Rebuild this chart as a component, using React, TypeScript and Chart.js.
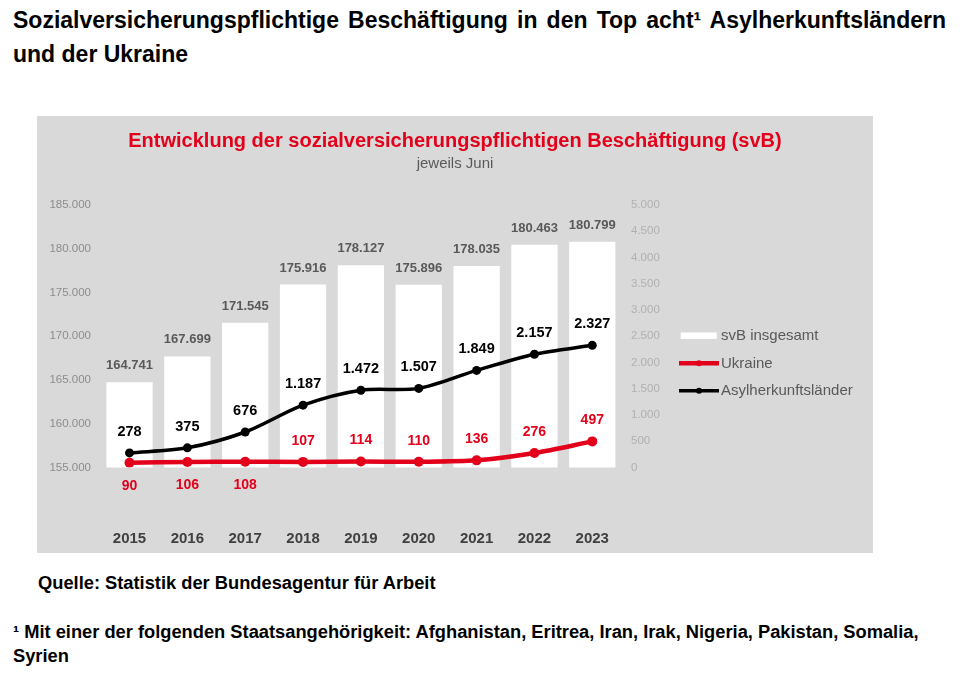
import React, { useEffect, useRef } from 'react';
import { Chart, registerables } from 'chart.js';

Chart.register(...registerables);

// ---- data ----
const years = ['2015', '2016', '2017', '2018', '2019', '2020', '2021', '2022', '2023'];
const svbTotal = [164741, 167699, 171545, 175916, 178127, 175896, 178035, 180463, 180799];
const ukraine = [90, 106, 108, 107, 114, 110, 136, 276, 497];
const asylCountries = [278, 375, 676, 1187, 1472, 1507, 1849, 2157, 2327];
const ukraineLabelSide = ['below', 'below', 'below', 'above', 'above', 'above', 'above', 'above', 'above'];

const FONT = "'Liberation Sans', Arial, Helvetica, sans-serif";
const RED = '#e2001a';
const GRAY_TEXT = '#595959';

const fmt = (v: number) => String(Math.round(v)).replace(/\B(?=(\d{3})+(?!\d))/g, '.');

const valueLabels = {
  id: 'valueLabels',
  afterDatasetsDraw(chart: any) {
    const ctx = chart.ctx;
    chart.data.datasets.forEach((ds: any, i: number) => {
      const meta = chart.getDatasetMeta(i);
      ctx.save();
      ctx.fillStyle = ds.labelColor;
      ctx.font = ds.labelFont;
      ctx.textAlign = 'center';
      ctx.textBaseline = 'middle';
      meta.data.forEach((el: any, j: number) => {
        const off = ds.labelOffsets[j];
        ctx.fillText(fmt(ds.data[j]), el.x, el.y + off);
      });
      ctx.restore();
    });
  },
};

const customLegend = {
  id: 'customLegend',
  afterDraw(chart: any) {
    const { ctx, chartArea } = chart;
    const ds = chart.data.datasets;
    const order = [2, 1, 0];
    const x0 = chartArea.right + 57.8;
    order.forEach((idx, k) => {
      const d = ds[idx];
      const yc = chartArea.top + 130.7 + k * 27.5;
      ctx.save();
      if (d.type === 'bar') {
        ctx.fillStyle = d.backgroundColor;
        ctx.fillRect(x0 + 1.7, yc - 3.2, 36, 6.4);
      } else {
        ctx.strokeStyle = d.borderColor;
        ctx.lineWidth = d.borderWidth;
        ctx.beginPath();
        ctx.moveTo(x0, yc);
        ctx.lineTo(x0 + 40, yc);
        ctx.stroke();
        ctx.fillStyle = d.borderColor;
        ctx.beginPath();
        ctx.arc(x0 + 20, yc, 3, 0, Math.PI * 2);
        ctx.fill();
      }
      ctx.fillStyle = GRAY_TEXT;
      ctx.font = `15px ${FONT}`;
      ctx.textAlign = 'left';
      ctx.textBaseline = 'middle';
      ctx.fillText(d.label, x0 + 42, yc + 0.5);
      ctx.restore();
    });
  },
};

function SvbChart() {
  const ref = useRef<HTMLCanvasElement | null>(null);
  useEffect(() => {
    if (!ref.current) return;
    const chart = new Chart(ref.current, {
      type: 'bar',
      data: {
        labels: years,
        datasets: [
          {
            type: 'line',
            label: 'Asylherkunftsländer',
            data: asylCountries,
            yAxisID: 'yR',
            borderColor: '#000000',
            backgroundColor: '#000000',
            borderWidth: 3.5,
            pointRadius: 4.5,
            pointBackgroundColor: '#000000',
            pointBorderWidth: 0,
            tension: 0.3,
            order: 0,
            labelColor: '#000000',
            labelFont: `bold 14.5px ${FONT}`,
            labelOffsets: asylCountries.map(() => -21),
          } as any,
          {
            type: 'line',
            label: 'Ukraine',
            data: ukraine,
            yAxisID: 'yR',
            borderColor: RED,
            backgroundColor: RED,
            borderWidth: 4.5,
            pointRadius: 5,
            pointBackgroundColor: RED,
            pointBorderWidth: 0,
            tension: 0.3,
            order: 1,
            labelColor: RED,
            labelFont: `bold 14px ${FONT}`,
            labelOffsets: ukraineLabelSide.map((s) => (s === 'below' ? 23 : -21)),
          } as any,
          {
            type: 'bar',
            label: 'svB insgesamt',
            data: svbTotal,
            yAxisID: 'yL',
            backgroundColor: '#ffffff',
            borderWidth: 0,
            barPercentage: 0.8,
            categoryPercentage: 1,
            order: 2,
            labelColor: GRAY_TEXT,
            labelFont: `bold 13px ${FONT}`,
            labelOffsets: svbTotal.map(() => -16.5),
          } as any,
        ],
      },
      options: {
        responsive: false,
        animation: false,
        layout: { padding: { top: 0, left: 0, right: 0, bottom: 5.5 } },
        plugins: {
          legend: { display: false },
          tooltip: { enabled: false },
          title: {
            display: true,
            text: 'Entwicklung der sozialversicherungspflichtigen Beschäftigung (svB)',
            color: RED,
            font: { family: FONT, size: 20, weight: 'bold' },
            padding: { top: 13.5, bottom: 0 },
          },
          subtitle: {
            display: true,
            text: 'jeweils Juni',
            color: GRAY_TEXT,
            font: { family: FONT, size: 15, weight: 'normal' },
            padding: { top: 1.5, bottom: 32 },
          },
        },
        scales: {
          x: {
            offset: true,
            grid: { display: false, drawTicks: false },
            border: { display: false },
            ticks: {
              padding: 62,
              color: '#404040',
              font: { family: FONT, size: 15, weight: 'bold' },
            },
            afterFit: (s: any) => {
              s.height = 80;
            },
          },
          yL: {
            position: 'left',
            min: 155000,
            max: 185000,
            grid: { display: false, drawTicks: false },
            border: { display: false },
            ticks: {
              stepSize: 5000,
              padding: 9.6,
              color: '#8c8c8c',
              font: { family: FONT, size: 11.5 },
              callback: (v: any) => fmt(Number(v)),
            },
            afterFit: (s: any) => {
              s.width = 63.6;
            },
          },
          yR: {
            position: 'right',
            min: 0,
            max: 5000,
            grid: { display: false, drawTicks: false },
            border: { display: false },
            ticks: {
              stepSize: 500,
              padding: 9.8,
              color: '#b0b0b0',
              font: { family: FONT, size: 11.5 },
              callback: (v: any) => fmt(Number(v)),
            },
            afterFit: (s: any) => {
              s.width = 251.8;
            },
          },
        },
      } as any,
      plugins: [valueLabels, customLegend],
    });
    return () => chart.destroy();
  }, []);
  return <canvas ref={ref} width={836} height={437} style={{ display: 'block', width: 836, height: 437 }} />;
}

export default function App() {
  return (
    <div style={{ position: 'relative', width: 944, height: 659, fontFamily: FONT, color: '#000' }}>
      <div
        style={{
          position: 'absolute',
          left: 5,
          top: -5,
          width: 933,
          fontSize: 23,
          lineHeight: '34px',
          fontWeight: 'bold',
          textAlign: 'justify',
        }}
      >
        Sozialversicherungspflichtige Beschäftigung in den Top acht¹ Asylherkunftsländern und der Ukraine
      </div>
      <div style={{ position: 'absolute', left: 29, top: 108, width: 836, height: 437, background: '#d9d9d9' }}>
        <SvbChart />
      </div>
      <div style={{ position: 'absolute', left: 30, top: 563, fontSize: 18.3, lineHeight: '24px', fontWeight: 'bold', whiteSpace: 'nowrap' }}>
        Quelle: Statistik der Bundesagentur für Arbeit
      </div>
      <div style={{ position: 'absolute', left: 5, top: 611.5, fontSize: 18.3, lineHeight: '24px', fontWeight: 'bold', whiteSpace: 'nowrap' }}>
        ¹ Mit einer der folgenden Staatsangehörigkeit: Afghanistan, Eritrea, Iran, Irak, Nigeria, Pakistan, Somalia,
        <br />
        Syrien
      </div>
    </div>
  );
}
